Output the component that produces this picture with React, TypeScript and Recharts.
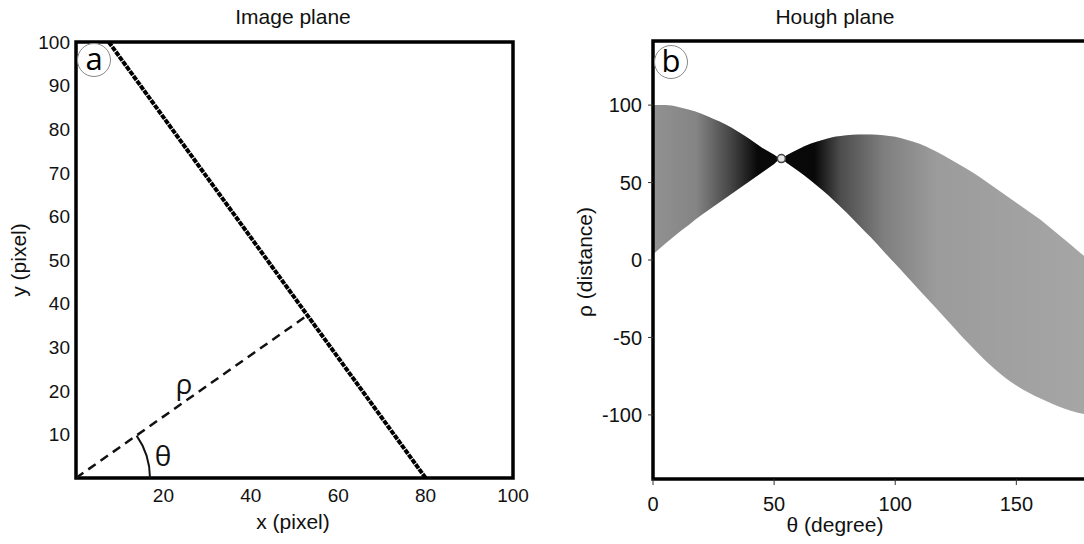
import React from 'react';
import { ComposedChart, Line, Area, XAxis, YAxis, ReferenceArea, ReferenceDot } from 'recharts';

// image plane: the detected line and the normal from the origin
const imageLine = [{ x: 7.5, y: 100 }, { x: 80, y: 0 }];
const normalLine = [{ x: 0, y: 0 }, { x: 52.5, y: 37 }];
const imageXTicks = [20, 40, 60, 80, 100];
const imageYTicks = [10, 20, 30, 40, 50, 60, 70, 80, 90, 100];

// hough plane: envelope of the sinusoid band
const thetaDeg = [0, 5, 10, 15, 20, 25, 30, 35, 40, 45, 50, 53, 55, 60, 65, 70, 75, 80, 85, 90, 95, 100, 105, 110, 115, 120, 125, 130, 135, 140, 145, 150, 155, 160, 165, 170, 175, 180];
const bandTop = [100, 100, 99, 97, 94.5, 91, 87.5, 83, 78, 72.5, 68, 65.5, 67.5, 71.5, 75, 77.5, 79.5, 80.5, 81, 81, 80.5, 79.5, 77.5, 75, 71.5, 67.5, 63, 58.5, 53.5, 48, 42.5, 37, 31.5, 26, 19.5, 13, 6.5, 0];
const bandBottom = [3.5, 10.5, 17, 23, 29, 34.5, 40, 45.5, 51, 56.5, 62, 65.5, 63, 57.5, 51.5, 45, 38, 30.5, 22.5, 14.5, 6, -2.5, -11, -19.5, -28, -36.5, -45, -53.5, -61.5, -69, -75.5, -81, -85.5, -89.5, -93, -96, -98.5, -100];
const houghXTicks = [0, 50, 100, 150];
const houghYTicks = [-100, -50, 0, 50, 100];
const peak = { theta: 53, rho: 65.5 };

const band = thetaDeg.map((t, i) => ({ theta: t, range: [bandBottom[i], bandTop[i]] }));

const FONT = 'Liberation Sans, Arial, sans-serif';
const leftTick = { fontSize: 19, fill: '#111', fontFamily: FONT };
const rightTick = { fontSize: 20, fill: '#111', fontFamily: FONT };
const labelFont: React.CSSProperties = { position: 'absolute', fontFamily: FONT, fontSize: 21, color: '#111', whiteSpace: 'nowrap', transform: 'translate(-50%, -50%)' };
const greekFont: React.CSSProperties = { position: 'absolute', fontFamily: 'Open Sans, sans-serif', fontSize: 28, color: '#111', transform: 'translate(-50%, -50%)' };

function CircleTag({ x, y, text }: { x: number; y: number; text: string }) {
  return (
    <div style={{
      position: 'absolute', left: x - 17, top: y - 17, width: 34, height: 34, borderRadius: '50%',
      border: '1px solid #888', background: '#fff', display: 'flex', alignItems: 'center', justifyContent: 'center',
      fontFamily: 'Open Sans, sans-serif', fontSize: 31, lineHeight: '34px', color: '#000', boxSizing: 'border-box', paddingBottom: 4,
    }}>{text}</div>
  );
}

// arc marking the angle between x axis and the normal
const AngleArc = (props: any) => {
  const { cx, cy } = props;
  const r = 74;
  const a = (35 * Math.PI) / 180;
  return <path d={`M ${cx + r} ${cy} A ${r} ${r} 0 0 0 ${cx + r * Math.cos(a)} ${cy - r * Math.sin(a)}`} fill="none" stroke="#111" strokeWidth={2} />;
};

function ImagePlane() {
  return (
    <ComposedChart width={540} height={544} margin={{ top: 42, right: 27, bottom: 26, left: 16 }}>
      <XAxis type="number" dataKey="x" domain={[0, 100]} ticks={imageXTicks} tickLine={false} axisLine={false} tickSize={0} tickMargin={11} height={40} tick={leftTick} />
      <YAxis type="number" dataKey="y" domain={[0, 100]} ticks={imageYTicks} tickLine={false} axisLine={false} tickSize={0} tickMargin={6} width={60} tick={leftTick} />
      <Line data={normalLine} dataKey="y" stroke="#111" strokeWidth={2.5} strokeDasharray="9 6" dot={false} isAnimationActive={false} />
      <Line data={imageLine} dataKey="y" stroke="#000" strokeWidth={4} strokeDasharray="5 1" dot={false} isAnimationActive={false} />
      <ReferenceDot x={0} y={0} r={0} shape={AngleArc} ifOverflow="visible" />
      <ReferenceArea x1={0} x2={100} y1={0} y2={100} fill="none" stroke="#000" strokeWidth={3.5} ifOverflow="visible" />
    </ComposedChart>
  );
}

function HoughPlane() {
  return (
    <ComposedChart width={560} height={544} data={band} margin={{ top: 41, right: 31, bottom: 25, left: 13 }}>
      <defs>
        <linearGradient id="darkCore" x1="0" y1="0" x2="1" y2="0">
          <stop offset="0" stopColor="#000" stopOpacity={0.14} />
          <stop offset="0.1" stopColor="#000" stopOpacity={0.22} />
          <stop offset="0.18" stopColor="#000" stopOpacity={0.6} />
          <stop offset="0.24" stopColor="#000" stopOpacity={0.95} />
          <stop offset="0.37" stopColor="#000" stopOpacity={0.95} />
          <stop offset="0.43" stopColor="#000" stopOpacity={0.55} />
          <stop offset="0.53" stopColor="#000" stopOpacity={0.25} />
          <stop offset="0.65" stopColor="#000" stopOpacity={0.08} />
          <stop offset="1" stopColor="#000" stopOpacity={0.02} />
        </linearGradient>
      </defs>
      <XAxis type="number" dataKey="theta" domain={[0, 180]} ticks={houghXTicks} axisLine={false} tickLine={{ stroke: '#333' }} tickSize={6} tickMargin={12} height={40} tick={rightTick} />
      <YAxis type="number" domain={[-141.4, 141.4]} ticks={houghYTicks} axisLine={false} tickLine={{ stroke: '#333' }} tickSize={5} tickMargin={6} width={80} tick={rightTick} allowDataOverflow />
      <Area dataKey="range" type="monotone" fill="#a9a9a9" fillOpacity={1} stroke="none" isAnimationActive={false} />
      <Area dataKey="range" type="monotone" fill="url(#darkCore)" fillOpacity={1} stroke="none" isAnimationActive={false} />
      <ReferenceDot x={peak.theta} y={peak.rho} r={4} fill="#e5e5e5" stroke="#444" strokeWidth={1.5} />
      <ReferenceArea x1={0} x2={180} y1={-141.4} y2={141.4} fill="none" stroke="#000" strokeWidth={3.5} ifOverflow="visible" />
    </ComposedChart>
  );
}

export default function App() {
  return (
    <div style={{ position: 'absolute', left: 0, top: 0, width: 1084, height: 544, overflow: 'hidden', background: '#fff' }}>
      <div style={{ position: 'absolute', left: 0, top: 0 }}><ImagePlane /></div>
      <div style={{ position: 'absolute', left: 560, top: 0 }}><HoughPlane /></div>

      <div style={{ ...labelFont, left: 293, top: 17 }}>Image plane</div>
      <div style={{ ...labelFont, left: 835, top: 17 }}>Hough plane</div>
      <div style={{ ...labelFont, left: 293, top: 522 }}>x (pixel)</div>
      <div style={{ ...labelFont, left: 835, top: 525 }}>θ (degree)</div>
      <div style={{ ...labelFont, left: 19, top: 260, transform: 'translate(-50%, -50%) rotate(-90deg)' }}>y (pixel)</div>
      <div style={{ ...labelFont, left: 585, top: 262, transform: 'translate(-50%, -50%) rotate(-90deg)' }}>ρ (distance)</div>

      <div style={{ ...greekFont, left: 184, top: 383 }}>ρ</div>
      <div style={{ ...greekFont, left: 163, top: 455 }}>θ</div>
      <CircleTag x={94} y={60} text="a" />
      <CircleTag x={671} y={62} text="b" />
    </div>
  );
}
